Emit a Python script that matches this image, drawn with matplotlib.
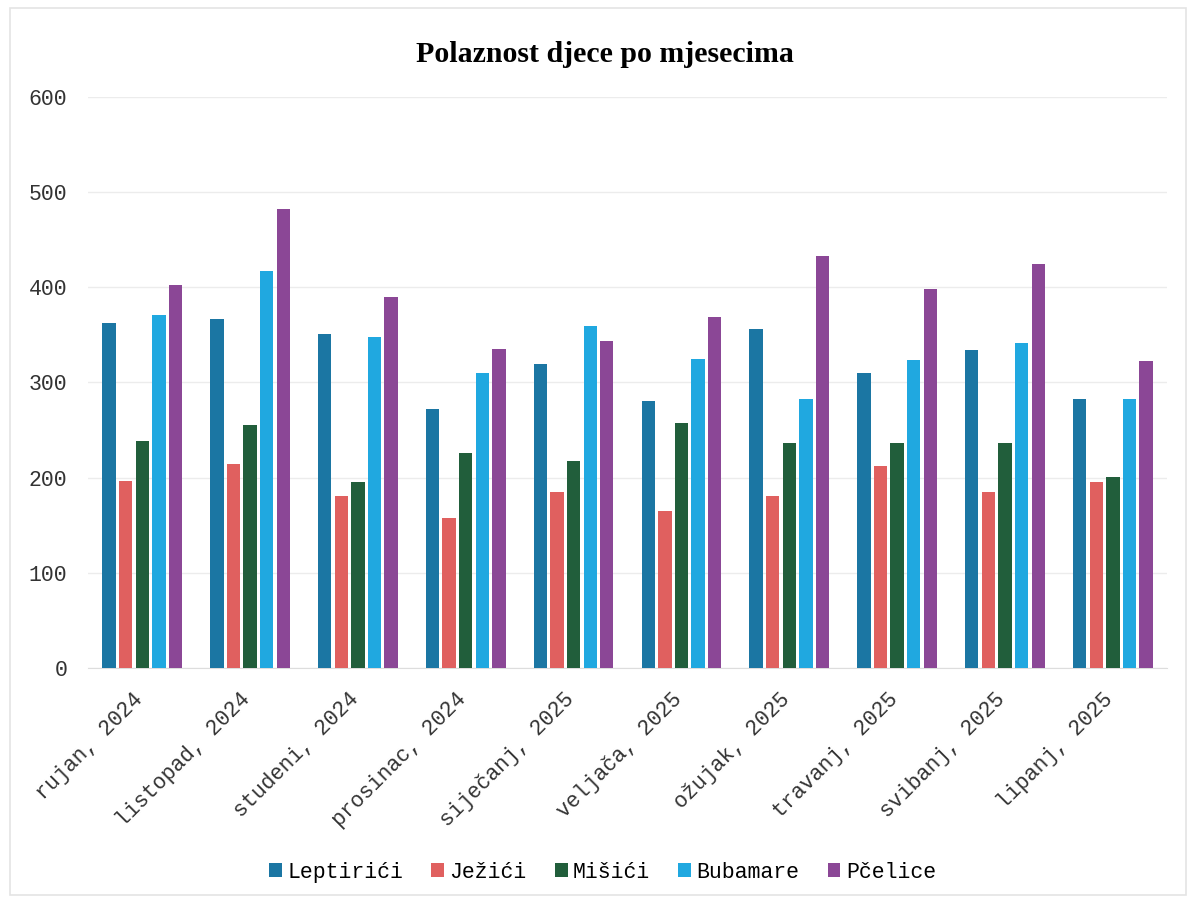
import numpy as np
import matplotlib
matplotlib.use("Agg")
import matplotlib.pyplot as plt
import matplotlib.transforms as mtransforms
from matplotlib.patches import Rectangle

mjeseci = ["rujan, 2024", "listopad, 2024", "studeni, 2024", "prosinac, 2024",
           "siječanj, 2025", "veljača, 2025", "ožujak, 2025", "travanj, 2025",
           "svibanj, 2025", "lipanj, 2025"]

grupe = ["Leptirići", "Ježići", "Mišići", "Bubamare", "Pčelice"]

leptirici = [363, 367, 351, 272, 319, 281, 356, 310, 334, 283]
jezici = [196, 214, 181, 157, 185, 165, 181, 212, 185, 195]
misici = [238, 255, 195, 226, 217, 257, 236, 236, 236, 201]
bubamare = [371, 417, 348, 310, 359, 325, 283, 324, 342, 283]
pcelice = [403, 482, 390, 335, 344, 369, 433, 398, 425, 323]

boje = ["#1b76a3", "#e0605f", "#215e3b", "#20a8e0", "#8b4796"]

mono = "Liberation Mono"

fig = plt.figure(figsize=(11.93, 9), dpi=100)
ax = fig.add_axes([0.074, 0.258, 0.904, 0.634])

x = np.arange(len(mjeseci))
korak = 0.154
sirina = 0.124
serije = [leptirici, jezici, misici, bubamare, pcelice]
for i, (ime, vrijednosti) in enumerate(zip(grupe, serije)):
    ax.bar(x + (i - 2) * korak, vrijednosti, width=sirina, color=boje[i], label=ime, zorder=3)

ax.set_xlim(-0.5, len(mjeseci) - 0.5)
ax.set_ylim(0, 600)
ax.set_yticks(range(0, 601, 100))
ax.yaxis.grid(True, color="#ececec", linewidth=1, zorder=0)
for s in ["top", "right", "left"]:
    ax.spines[s].set_visible(False)
ax.spines["bottom"].set_color("#dddddd")
ax.tick_params(axis="both", length=0, labelsize=15.5, colors="#333333")
ax.tick_params(axis="y", pad=15)
for t in ax.get_yticklabels():
    t.set_family(mono)

ax.set_xticks(x)
ax.set_xticklabels(mjeseci, rotation=45, ha="right", rotation_mode="anchor", family=mono, fontsize=15.5)
pomak = mtransforms.ScaledTranslation(-0.1, -0.16, fig.dpi_scale_trans)
for t in ax.get_xticklabels():
    t.set_transform(t.get_transform() + pomak)

fig.text(0.507, 0.94, "Polaznost djece po mjesecima", ha="center", va="center",
         family="Liberation Serif", fontweight="bold", fontsize=21.5)

fig.legend(loc="center", bbox_to_anchor=(0.505, 0.031), ncol=5, frameon=False,
           prop={"family": mono, "size": 15.5}, handlelength=0.6, handleheight=0.6,
           handletextpad=0.25, columnspacing=1.3)

fig.patches.append(Rectangle((0.008, 0.006), 0.986, 0.985, transform=fig.transFigure,
                             fill=False, edgecolor="#e4e4e4", linewidth=1.2))

plt.savefig("out.png", dpi=100)
